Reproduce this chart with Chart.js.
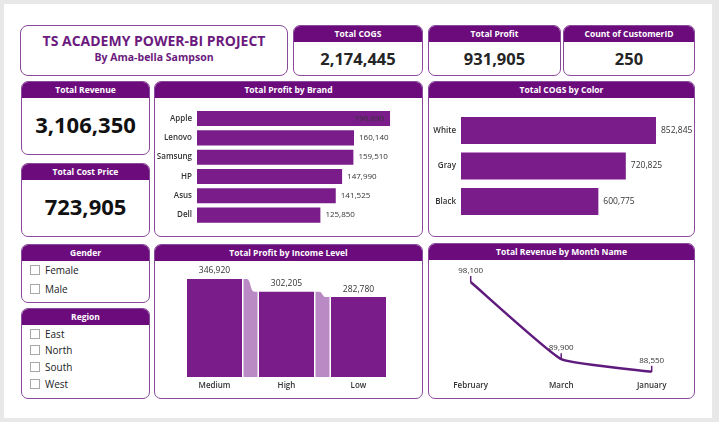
<!DOCTYPE html>
<html>
<head>
<meta charset="utf-8">
<script src="https://cdn.jsdelivr.net/npm/chart.js@4.4.1/dist/chart.umd.min.js"></script>
<style>
  body { margin: 0; width: 719px; height: 422px; background: #e8e8e8; overflow: hidden; position: relative;
         font-family: 'Open Sans', 'Noto Sans', sans-serif; }
  .page { position: absolute; left: 4px; top: 4px; width: 708px; height: 414px; background: #fff; }
  .card { position: absolute; box-sizing: border-box; border: 1.5px solid #8a4a9c; border-radius: 7px;
          background: #fff; overflow: hidden; }
  .hdr { background: #6b0b7c; color: #fff; font-weight: 700; font-size: 8.5px; text-align: center;
         height: 16px; line-height: 16px; }
  .kpi { text-align: center; font-weight: 700; color: #252525; }
  .slicer-item { position: absolute; left: 8px; font-size: 10px; color: #222; }
  .slicer-item span { display: inline-block; width: 8px; height: 8px; border: 1px solid #a8a8a8;
                      vertical-align: -1px; margin-right: 5px; }
  canvas { position: absolute; }
</style>
</head>
<body>
<div class="page"></div>

<div class="card" style="left:20px;top:25px;width:268px;height:51px;border-radius:8px">
  <div style="text-align:center;color:#6b1a7e;font-weight:700;font-size:14px;margin-top:5px">TS ACADEMY POWER-BI PROJECT</div>
  <div style="text-align:center;color:#6b1a7e;font-weight:700;font-size:10.5px;margin-top:0px">By Ama-bella Sampson</div>
</div>

<div class="card" style="left:293px;top:25px;width:130px;height:51px">
  <div class="hdr">Total COGS</div><div class="kpi" id="kpiCogs" style="font-size:16.5px;margin-top:5px"></div>
</div>
<div class="card" style="left:428px;top:25px;width:133px;height:51px">
  <div class="hdr">Total Profit</div><div class="kpi" id="kpiProfit" style="font-size:16.5px;margin-top:5px"></div>
</div>
<div class="card" style="left:563px;top:25px;width:132px;height:51px">
  <div class="hdr">Count of CustomerID</div><div class="kpi" id="kpiCount" style="font-size:16.5px;margin-top:5px"></div>
</div>

<div class="card" style="left:21px;top:81px;width:129px;height:74px">
  <div class="hdr">Total Revenue</div><div class="kpi" id="kpiRevenue" style="font-size:22px;color:#111;margin-top:11px"></div>
</div>
<div class="card" style="left:21px;top:163px;width:129px;height:74px">
  <div class="hdr">Total Cost Price</div><div class="kpi" id="kpiCost" style="font-size:22px;color:#111;margin-top:11px"></div>
</div>

<div class="card" style="left:154px;top:81px;width:269px;height:156px"><div class="hdr">Total Profit by Brand</div></div>
<div class="card" style="left:428px;top:81px;width:267px;height:156px"><div class="hdr">Total COGS by Color</div></div>

<div class="card" id="genderCard" style="left:21px;top:244px;width:129px;height:59px"><div class="hdr">Gender</div></div>
<div class="card" id="regionCard" style="left:21px;top:308px;width:129px;height:91px"><div class="hdr">Region</div></div>

<div class="card" style="left:154px;top:244px;width:269px;height:155px"><div class="hdr">Total Profit by Income Level</div></div>
<div class="card" style="left:428px;top:243px;width:267px;height:156px"><div class="hdr">Total Revenue by Month Name</div></div>

<canvas id="brandChart" width="266" height="136" style="left:155px;top:99px"></canvas>
<canvas id="colorChart" width="263" height="136" style="left:430px;top:99px"></canvas>
<canvas id="incomeChart" width="266" height="135" style="left:155px;top:262px"></canvas>
<canvas id="monthChart" width="265" height="135" style="left:429px;top:262px"></canvas>

<script>
// 数据
const brandLabels = ['Apple', 'Lenovo', 'Samsung', 'HP', 'Asus', 'Dell'];
const brandProfit = [196890, 160140, 159510, 147990, 141525, 125850];

const colorLabels = ['White', 'Gray', 'Black'];
const colorCogs = [852845, 720825, 600775];

const incomeLabels = ['Medium', 'High', 'Low'];
const incomeProfit = [346920, 302205, 282780];

const monthLabels = ['February', 'March', 'January'];
const monthRevenue = [98100, 89900, 88550];

const genderItems = ['Female', 'Male'];
const regionItems = ['East', 'North', 'South', 'West'];

const kpiCogs = 2174445;
const kpiProfit = 931905;
const kpiCount = 250;
const kpiRevenue = 3106350;
const kpiCost = 723905;

const FONT = "'Open Sans', 'Noto Sans', sans-serif";
const BAR = '#7a1c8a';
const fmt = v => v.toLocaleString('en-US');

// KPI 卡片
document.getElementById('kpiCogs').textContent = fmt(kpiCogs);
document.getElementById('kpiProfit').textContent = fmt(kpiProfit);
document.getElementById('kpiCount').textContent = fmt(kpiCount);
document.getElementById('kpiRevenue').textContent = fmt(kpiRevenue);
document.getElementById('kpiCost').textContent = fmt(kpiCost);

// 切片器
function fillSlicer(id, items, top, step) {
  const card = document.getElementById(id);
  items.forEach((name, i) => {
    const div = document.createElement('div');
    div.className = 'slicer-item';
    div.style.top = (top + i * step) + 'px';
    div.innerHTML = '<span></span>' + name;
    card.appendChild(div);
  });
}
fillSlicer('genderCard', genderItems, 18, 19);
fillSlicer('regionCard', regionItems, 17.5, 16.7);

// 数值标签插件
const valueLabels = {
  id: 'valueLabels',
  afterDatasetsDraw(chart, args, opts) {
    if (!opts || !opts.mode) return;
    const ctx = chart.ctx;
    const meta = chart.getDatasetMeta(0);
    const data = chart.data.datasets[0].data;
    ctx.save();
    ctx.font = opts.font || ('8px ' + FONT);
    ctx.fillStyle = '#333';
    meta.data.forEach((el, i) => {
      const txt = fmt(data[i]);
      if (opts.mode === 'end') {
        ctx.textBaseline = 'middle';
        if (opts.insideIndex === i) {
          ctx.textAlign = 'right';
          ctx.fillText(txt, el.x - 6, el.y);
        } else {
          ctx.textAlign = 'left';
          ctx.fillText(txt, el.x + 5, el.y);
        }
      } else if (opts.mode === 'top') {
        ctx.textAlign = 'center';
        ctx.textBaseline = 'middle';
        ctx.fillText(txt, el.x, el.y - 8);
      } else if (opts.mode === 'line') {
        ctx.strokeStyle = opts.tickColor;
        ctx.lineWidth = 1.5;
        ctx.beginPath();
        ctx.moveTo(el.x, el.y);
        ctx.lineTo(el.x, el.y - 6);
        ctx.stroke();
        ctx.textAlign = 'center';
        ctx.textBaseline = 'middle';
        ctx.fillText(txt, el.x, el.y - 11);
      }
    });
    ctx.restore();
  }
};

// 丝带图连接带
const ribbons = {
  id: 'ribbons',
  beforeDatasetsDraw(chart, args, opts) {
    if (!opts || !opts.color) return;
    const ctx = chart.ctx;
    const bars = chart.getDatasetMeta(0).data;
    ctx.save();
    ctx.fillStyle = opts.color;
    for (let i = 0; i < bars.length - 1; i++) {
      const a = bars[i], b = bars[i + 1];
      const x0 = a.x + a.width / 2 + 1.5;
      const x1 = b.x - b.width / 2 - 1.5;
      const base = a.base;
      const mid = (x0 + x1) / 2;
      ctx.beginPath();
      ctx.moveTo(x0, a.y);
      ctx.lineTo(x0 + (x1 - x0) * 0.25, a.y);
      ctx.bezierCurveTo(mid, a.y, mid, b.y, x1 - (x1 - x0) * 0.25, b.y);
      ctx.lineTo(x1, b.y);
      ctx.lineTo(x1, base);
      ctx.lineTo(x0, base);
      ctx.closePath();
      ctx.fill();
    }
    ctx.restore();
  }
};

Chart.register(valueLabels, ribbons);
Chart.defaults.font.family = FONT;
Chart.defaults.color = '#333';

const tickFont = { size: 8, weight: '600' };

function hBar(id, labels, values, max, axisW, pad, barPct, insideIndex, labelFont) {
  return new Chart(document.getElementById(id), {
    type: 'bar',
    data: {
      labels: labels,
      datasets: [{ data: values, backgroundColor: BAR, barPercentage: barPct, categoryPercentage: 1 }]
    },
    options: {
      indexAxis: 'y',
      responsive: false,
      animation: false,
      layout: { padding: pad },
      plugins: {
        legend: { display: false },
        tooltip: { enabled: false },
        valueLabels: { mode: 'end', insideIndex: insideIndex, font: labelFont }
      },
      scales: {
        x: { display: false, min: 0, max: max },
        y: {
          grid: { display: false, drawTicks: false },
          border: { display: false },
          ticks: { padding: 5, color: '#333', font: tickFont },
          afterFit: s => { s.width = axisW; }
        }
      }
    }
  });
}

hBar('brandChart', brandLabels, brandProfit, 220000, 42,
     { left: 0, right: 8.3, top: 9.9, bottom: 10.2 }, 0.78, 0, '8px ' + FONT);
hBar('colorChart', colorLabels, colorCogs, 950000, 31,
     { left: 0, right: 14.8, top: 13.75, bottom: 15.75 }, 0.76, -1, '8.5px ' + FONT);

new Chart(document.getElementById('incomeChart'), {
  type: 'bar',
  data: {
    labels: incomeLabels,
    datasets: [{ data: incomeProfit, backgroundColor: BAR, barPercentage: 0.764, categoryPercentage: 1 }]
  },
  options: {
    responsive: false,
    animation: false,
    layout: { padding: { left: 23.5, right: 26.5, top: 2, bottom: 0 } },
    plugins: {
      legend: { display: false },
      tooltip: { enabled: false },
      valueLabels: { mode: 'top', font: '8.5px ' + FONT },
      ribbons: { color: '#b98ac4' }
    },
    scales: {
      y: { display: false, min: 0, max: 400000 },
      x: {
        grid: { display: false, drawTicks: false },
        border: { display: false },
        ticks: { padding: 4, color: '#333', font: tickFont },
        afterFit: s => { s.height = 20; }
      }
    }
  }
});

new Chart(document.getElementById('monthChart'), {
  type: 'line',
  data: {
    labels: monthLabels,
    datasets: [{
      data: monthRevenue,
      borderColor: '#5e1a7c',
      borderWidth: 2.5,
      pointRadius: 0,
      tension: 0.12,
      fill: false
    }]
  },
  options: {
    responsive: false,
    animation: false,
    layout: { padding: { left: 41.7, right: 42.3, top: 13, bottom: 0 } },
    plugins: {
      legend: { display: false },
      tooltip: { enabled: false },
      valueLabels: { mode: 'line', font: '8px ' + FONT, tickColor: '#5e1a7c' }
    },
    scales: {
      y: { display: false, min: 88000, max: 98850 },
      x: {
        offset: false,
        grid: { display: false, drawTicks: false },
        border: { display: false },
        ticks: { padding: 4, color: '#333', font: tickFont },
        afterFit: s => { s.height = 20; }
      }
    }
  }
});
</script>
</body>
</html>
